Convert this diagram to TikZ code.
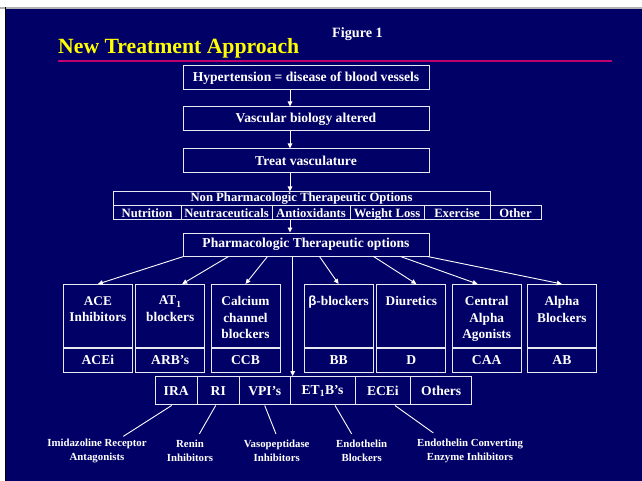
\documentclass[tikz,border=0pt]{standalone}
\usepackage{fontspec}
\setmainfont{Liberation Serif}
\newfontfamily\greekfont{Liberation Sans}
\usepackage{tikz}
\usetikzlibrary{positioning,calc,arrows.meta}

\definecolor{slidebg}{RGB}{0,0,102}
\definecolor{rulepink}{RGB}{190,0,110}
\definecolor{titleyellow}{RGB}{255,255,0}
\definecolor{boxline}{RGB}{232,232,240}

\tikzset{
  wire/.style={white,line width=0.9pt},
  flow/.style={draw=boxline,line width=1pt,text=white,minimum width=246pt,minimum height=24pt,inner sep=0pt,
    font=\bfseries\fontsize{13.6}{16}\selectfont},
  npbox/.style={draw=boxline,line width=1pt,text=white,minimum height=13pt,inner sep=0pt,
    font=\bfseries\fontsize{12.66}{14}\selectfont},
  npcell/.style={npbox,minimum height=0pt,text height=13pt,text depth=1pt},
  drug/.style={draw=boxline,line width=1pt,minimum width=69pt,minimum height=63pt,inner sep=0pt},
  drugname/.style={text=white,align=center,inner sep=0pt,font=\bfseries\fontsize{13.3}{16.7}\selectfont},
  abbr/.style={draw=boxline,line width=1pt,text=white,minimum width=69pt,minimum height=23.5pt,inner sep=0pt,
    font=\bfseries\fontsize{13.6}{16}\selectfont},
  newcell/.style={draw=boxline,line width=1pt,text=white,minimum height=28.3pt,inner sep=0pt,
    font=\bfseries\fontsize{13.6}{16}\selectfont},
  note/.style={text=white,align=center,inner sep=1pt,font=\bfseries\fontsize{10.8}{14}\selectfont}
}

\begin{document}
\begin{tikzpicture}[x=1pt,y=-1pt,>={Triangle[length=5pt,width=4.5pt]}]
% slide background
\useasboundingbox (0,0) rectangle (642,481);
\fill[white] (0,0) rectangle (642,481);
\fill[gray!60] (0,7.5) rectangle (642,9);
\fill[black] (5,7.5) rectangle (6,481);
\fill[slidebg] (6,9) rectangle (642,481);

% heading
\node[anchor=base west,text=titleyellow,inner sep=0pt,font=\bfseries\fontsize{21.7}{26}\selectfont] (title) at (58,54) {New Treatment Approach};
\node[anchor=base west,text=white,inner sep=0pt,font=\bfseries\fontsize{14.2}{17}\selectfont] (fig) at (332,38) {Figure 1};
\draw[rulepink,line width=1.5pt] (58,61) -- (612,61);

% main chain
\coordinate (spine) at (290,0);
\coordinate (drop) at (292.7,0);
\node[flow] (hyper) at (306,77.8) {Hypertension = disease of blood vessels};
\node[flow] (vasc) at (306,119) {Vascular biology altered};
\node[flow] (treat) at (306,161) {Treat vasculature};

% non pharmacologic options
\node[npbox,minimum width=377pt] (nonpharm) at (301.5,198.5) {Non Pharmacologic Therapeutic Options};
\node[npcell,minimum width=68pt] (nutr) at (147,212) {Nutrition};
\node[npcell,minimum width=91pt] (neut) at (226.5,212) {Neutraceuticals};
\node[npcell,minimum width=78pt] (anti) at (311,212) {Antioxidants};
\node[npcell,minimum width=74pt] (wloss) at (387,212) {Weight Loss};
\node[npcell,minimum width=66pt] (exer) at (457,212) {Exercise};
\node[npcell,minimum width=51pt] (other) at (515.5,212) {Other};

\node[flow,minimum height=23pt] (pharm) at (306,244.5) {Pharmacologic Therapeutic options};

\path[->,wire]
  (hyper.south -| spine) edge (vasc.north -| spine)
  (vasc.south -| spine) edge (treat.north -| spine)
  (treat.south -| spine) edge (nonpharm.north -| spine)
  (nutr.south -| spine) edge (pharm.north -| spine);

% drug classes
\node[drug] (ace) at (97.9,316) {};
\node[drug] (atone) at (170.2,316) {};
\node[drug] (ccb) at (245.5,316) {};
\node[drug] (bb) at (338.6,316) {};
\node[drug] (diu) at (411.4,316) {};
\node[drug] (caa) at (486.7,316) {};
\node[drug] (alpha) at (561.9,316) {};

\node[drugname,below=12pt of ace.north] (acetxt) {ACE\\Inhibitors};
\node[drugname,below=12pt of atone.north] (atonetxt) {AT\textsubscript{1}\\blockers};
\node[drugname,below=12pt of ccb.north] (ccbtxt) {Calcium\\channel\\blockers};
\node[drugname,below=12pt of bb.north] (bbtxt) {{\greekfont β}-blockers};
\node[drugname,below=12pt of diu.north] (diutxt) {Diuretics};
\node[drugname,below=12pt of caa.north] (caatxt) {Central\\Alpha\\Agonists};
\node[drugname,below=12pt of alpha.north] (alphatxt) {Alpha\\Blockers};

\node[abbr,below=0pt of ace] (acei) {ACEi};
\node[abbr,below=0pt of atone] (arb) {ARB’s};
\node[abbr,below=0pt of ccb] (ccbab) {CCB};
\node[abbr,below=0pt of bb] (bbab) {BB};
\node[abbr,below=0pt of diu] (dab) {D};
\node[abbr,below=0pt of caa] (caaab) {CAA};
\node[abbr,below=0pt of alpha] (abab) {AB};

\path[->,wire]
  ($(pharm.south west)+(1,0)$) edge (ace.north)
  ($(pharm.south west)+(46,0)$) edge ($(atone.north)+(12,0)$)
  ($(pharm.south west)+(85,0)$) edge (ccb.north)
  ($(pharm.south west)+(137,0)$) edge (bb.north)
  ($(pharm.south west)+(191,0)$) edge ($(diu.north)+(5,0)$)
  ($(pharm.south west)+(218,0)$) edge ($(caa.north)+(-9,0)$)
  ($(pharm.south west)+(245,0)$) edge (alpha.north);

% newer agents
\node[newcell,minimum width=42.3pt] (ira) at (176.2,390.8) {IRA};
\node[newcell,minimum width=42pt] (ri) at (218.3,390.8) {RI};
\node[newcell,minimum width=50.7pt] (vpi) at (264.7,390.8) {VPI’s};
\node[newcell,minimum width=65pt] (etb) at (322.5,390.8) {ET\textsubscript{1}B’s};
\node[newcell,minimum width=55.7pt] (ecei) at (382.9,390.8) {ECEi};
\node[newcell,minimum width=61pt] (others) at (441.2,390.8) {Others};

\path[->,wire] (pharm.south -| drop) edge (vpi.north -| drop);

\node[note] (iralbl) at (97,450.5) {Imidazoline Receptor\\Antagonists};
\node[note] (rilbl) at (190,450.5) {Renin\\Inhibitors};
\node[note] (vpilbl) at (276.7,450.5) {Vasopeptidase\\Inhibitors};
\node[note] (etblbl) at (361.7,450.5) {Endothelin\\Blockers};
\node[note] (ecelbl) at (470,450.5) {Endothelin Converting\\Enzyme Inhibitors};

\path[wire]
  ($(ira.south)+(-4.5,0)$) edge ($(iralbl.north)+(26.3,-1)$)
  ($(ri.south)+(-2.6,0)$) edge ($(rilbl.north)+(9.3,-4.5)$)
  (vpi.south) edge ($(vpilbl.north)+(-0.7,-4.5)$)
  ($(etb.south)+(12.5,0)$) edge ($(etblbl.north)+(-10,-4.5)$)
  ($(ecei.south)+(12,0)$) edge ($(ecelbl.north)+(-36.7,-4.5)$);
\end{tikzpicture}
\end{document}
